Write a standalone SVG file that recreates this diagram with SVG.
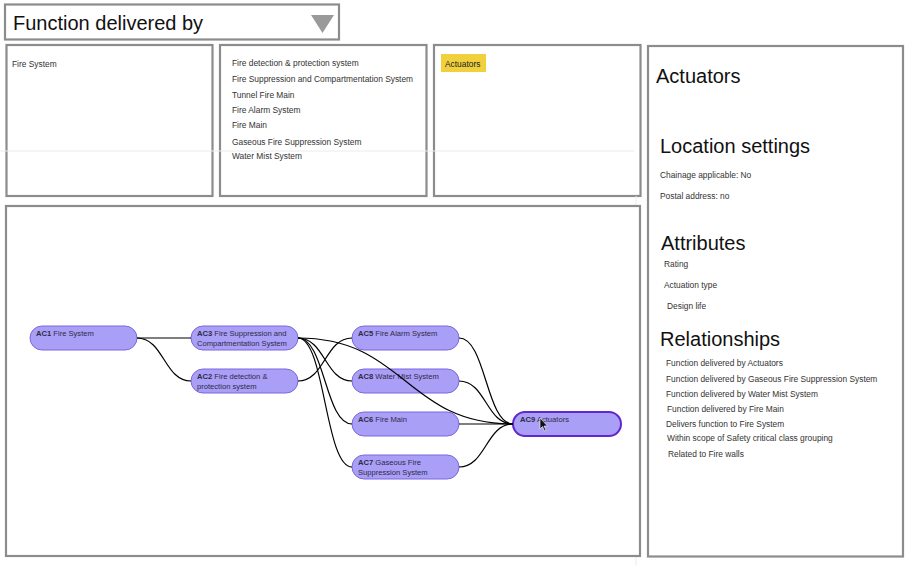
<svg xmlns="http://www.w3.org/2000/svg" width="909" height="566" viewBox="0 0 909 566">
<style>
text{font-family:"Liberation Sans",Arial,Helvetica,sans-serif;fill:#333}
.frame{fill:#fff;stroke:#8c8c8c;stroke-width:2.2}
.sm{font-size:8.4px}
.h{font-size:20px;fill:#111}
.node rect{fill:#a99ff6;stroke:#7a67e2;stroke-width:1}
.node text{font-size:7.6px;fill:#2e2a48}
.node .id{font-weight:bold}
#connectors path{fill:none;stroke:#000;stroke-width:1.2}
.faint{stroke:#ececec;stroke-width:1;fill:none}
</style>
<rect width="909" height="566" fill="#fff"/>

<g id="dropdown">
<rect class="frame" x="5" y="4.5" width="334" height="35"/>
<text x="13" y="30" style="font-size:20px;fill:#111">Function delivered by</text>
<polygon points="311,15 334,15 322.5,33" fill="#9a9a9a"/>
</g>

<g id="panel-level1">
<rect class="frame" x="6.5" y="45" width="206" height="151"/>
<text class="sm" x="12" y="67">Fire System</text>
</g>

<g id="panel-level2">
<rect class="frame" x="220" y="45" width="206.5" height="151"/>
<text class="sm" x="232" y="66">Fire detection &amp; protection system</text>
<text class="sm" x="232" y="82">Fire Suppression and Compartmentation System</text>
<text class="sm" x="232" y="97.5">Tunnel Fire Main</text>
<text class="sm" x="232" y="113">Fire Alarm System</text>
<text class="sm" x="232" y="128">Fire Main</text>
<text class="sm" x="232" y="145">Gaseous Fire Suppression System</text>
<text class="sm" x="232" y="158.5">Water Mist System</text>
</g>

<g id="panel-level3">
<rect class="frame" x="434" y="45" width="206.5" height="151"/>
<rect x="441" y="54" width="45" height="18" fill="#f0d03c"/>
<text class="sm" x="445" y="67" style="fill:#222">Actuators</text>
</g>

<line class="faint" x1="0" y1="151" x2="634" y2="151"/>
<line class="faint" x1="636" y1="196" x2="636" y2="566"/>

<g id="details">
<rect class="frame" x="648" y="46" width="255" height="510.5"/>
<text class="h" x="656" y="83">Actuators</text>
<text class="h" x="660" y="153">Location settings</text>
<text class="sm" x="660" y="178">Chainage applicable: No</text>
<text class="sm" x="660" y="199">Postal address: no</text>
<text class="h" x="661" y="250">Attributes</text>
<text class="sm" x="664" y="267">Rating</text>
<text class="sm" x="664" y="288">Actuation type</text>
<text class="sm" x="667" y="309">Design life</text>
<text class="h" x="660" y="346">Relationships</text>
<text class="sm" x="666" y="366">Function delivered by Actuators</text>
<text class="sm" x="666" y="382">Function delivered by Gaseous Fire Suppression System</text>
<text class="sm" x="666" y="397">Function delivered by Water Mist System</text>
<text class="sm" x="667" y="412">Function delivered by Fire Main</text>
<text class="sm" x="666" y="426.5">Delivers function to Fire System</text>
<text class="sm" x="667" y="441">Within scope of Safety critical class grouping</text>
<text class="sm" x="668" y="456.5">Related to Fire walls</text>
</g>

<g id="graph-panel">
<rect class="frame" x="6" y="206" width="634" height="350"/>
</g>

<g id="AC1" class="node">
<rect x="30" y="326" width="107" height="24" rx="12"/>
<text x="36" y="336"><tspan class="id">AC1</tspan> Fire System</text>
</g>
<g id="AC3" class="node">
<rect x="191" y="326" width="107" height="24" rx="12"/>
<text x="197" y="336"><tspan class="id">AC3</tspan> Fire Suppression and</text>
<text x="197" y="346">Compartmentation System</text>
</g>
<g id="AC2" class="node">
<rect x="191" y="369" width="107" height="24" rx="12"/>
<text x="197" y="379"><tspan class="id">AC2</tspan> Fire detection &amp;</text>
<text x="197" y="389">protection system</text>
</g>
<g id="AC5" class="node">
<rect x="352" y="326" width="107" height="24" rx="12"/>
<text x="358" y="336"><tspan class="id">AC5</tspan> Fire Alarm System</text>
</g>
<g id="AC8" class="node">
<rect x="352" y="369" width="107" height="24" rx="12"/>
<text x="358" y="379"><tspan class="id">AC8</tspan> Water Mist System</text>
</g>
<g id="AC6" class="node">
<rect x="352" y="412" width="107" height="24" rx="12"/>
<text x="358" y="422"><tspan class="id">AC6</tspan> Fire Main</text>
</g>
<g id="AC7" class="node">
<rect x="352" y="455" width="107" height="24" rx="12"/>
<text x="358" y="465"><tspan class="id">AC7</tspan> Gaseous Fire</text>
<text x="358" y="475">Suppression System</text>
</g>
<g id="AC9" class="node">
<rect x="513" y="412" width="108" height="24" rx="12" style="stroke:#6227cc;stroke-width:2"/>
<text x="520" y="422"><tspan class="id">AC9</tspan> Actuators</text>
</g>

<g id="connectors">
<path d="M137,338 L191,338"/>
<path d="M137,338 C164,338 164,381 191,381"/>
<path d="M298,338 C325,338 325,381 352,381"/>
<path d="M298,338 C325,338 325,424 352,424"/>
<path d="M298,338 C325,338 325,467 352,467"/>
<path d="M298,338 C405.5,338 405.5,424 513,424"/>
<path d="M298,381 C325,381 325,338 352,338"/>
<path d="M459,338 C486,338 486,424 513,424"/>
<path d="M459,381 C486,381 486,424 513,424"/>
<path d="M459,424 L513,424"/>
<path d="M459,467 C486,467 486,424 513,424"/>
</g>

<polygon points="540,418 540,429 542.5,426.5 544.5,431 546,430.3 544,426 547.5,426" fill="#111" stroke="#fff" stroke-width="0.6"/>
</svg>
